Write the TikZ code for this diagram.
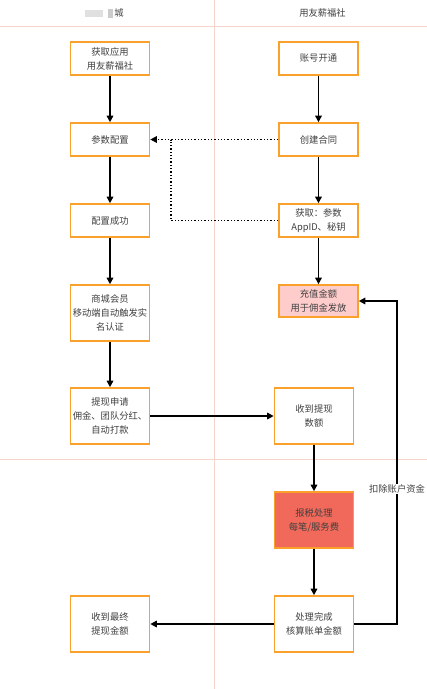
\documentclass[tikz,border=0pt]{standalone}
\usepackage{fontspec}
\setmainfont{Noto Sans CJK SC}
\usepackage{tikz}
\usetikzlibrary{arrows.meta}
\definecolor{laneline}{HTML}{F6D3CB}
\definecolor{boxedge}{HTML}{F9A12B}
\definecolor{txt}{HTML}{404040}
\tikzset{
  step box/.style={
    % The shape:
    shape=rectangle,
    % The size:
    minimum width=79pt,minimum height=33pt,inner sep=0pt,
    % The border:
    line width=1.6pt,draw=boxedge,
    % The filling:
    fill=white,
    align=center,font=\fontsize{9.3}{14}\selectfont,text=txt}}
\tikzset{
  flow/.style={line width=1.5pt,-{Triangle[length=6.5pt,width=6.5pt]}},
  back flow/.style={line width=1.3pt,dotted,-{Triangle[length=6.5pt,width=6.5pt]}}}

\begin{document}
\begin{tikzpicture}[x=1pt,y=-1pt]
	\useasboundingbox (0,0) rectangle (427,689);
	% Lanes
	\draw[laneline,line width=0.7pt] (0,26) -- (427,26);
	\draw[laneline,line width=0.7pt] (0,459) -- (427,459);
	\draw[laneline,line width=0.7pt] (214,0) -- (214,689);
	\fill[black!12] (85,10) rectangle (103,17);
	\fill[black!20] (108,9) rectangle (113,18);
	\node[text=txt,font=\fontsize{9.3}{11}\selectfont] (mall) at (119,13) {城};
	\node[text=txt,font=\fontsize{9.3}{11}\selectfont] (yyx) at (322.5,13) {用友薪福社};
	% Left lane
	\node[step box] (app) at (110,58.5) {获取应用\\用友薪福社};
	\node[step box] (conf) at (110,139.5) {参数配置};
	\node[step box] (ok) at (110,220.5) {配置成功};
	\node[step box,minimum height=56pt] (member) at (110,313) {商城会员\\移动端自动触发实\\名认证};
	\node[step box,minimum height=56pt] (apply) at (110,416) {提现申请\\佣金、团队分红、\\自动打款};
	\node[step box,minimum height=56pt] (final) at (110,624) {收到最终\\提现金额};
	% Right lane
	\node[step box] (open) at (318.5,58.5) {账号开通};
	\node[step box] (contract) at (318.5,139.5) {创建合同};
	\node[step box] (key) at (318.5,220.5) {获取：参数\\AppID、秘钥};
	\node[step box,minimum height=32pt,fill=red!20] (charge) at (318.5,301) {充值金额\\用于佣金发放};
	\node[step box,minimum height=56pt] (recv) at (314,416) {收到提现\\数额};
	\node[step box,minimum height=56pt,fill={rgb,255:red,240;green,105;blue,90}] (tax) at (314,520) {报税处理\\每笔/服务费};
	\node[step box,minimum height=56pt] (done) at (314,624) {处理完成\\核算账单金额};
	% Lines in left lane
	\draw[flow] (app) -- (conf);
	\draw[flow] (conf) -- (ok);
	\draw[flow] (ok) -- (member);
	\draw[flow] (member) -- (apply);
	% Lines in right lane
	\draw[flow] (open) -- (contract);
	\draw[flow] (contract) -- (key);
	\draw[flow] (key) -- (charge);
	\draw[flow] (recv) -- (tax);
	\draw[flow] (tax) -- (done);
	% Lines across lanes
	\draw[back flow] (contract) -- (conf);
	\draw[line width=1.3pt,dotted] (key.west) -- (171,220.5) -- (171,139.5);
	\draw[flow] (apply) -- (recv);
	\draw[flow] (done) -- (final);
	\draw[flow] (done.east) -- (397,624) -- (397,301)
		node[pos=0.418,fill=white,text=txt,font=\fontsize{9.3}{11}\selectfont,inner sep=1pt] (cut) {扣除账户资金}
		-- (charge.east);
\end{tikzpicture}
\end{document}
